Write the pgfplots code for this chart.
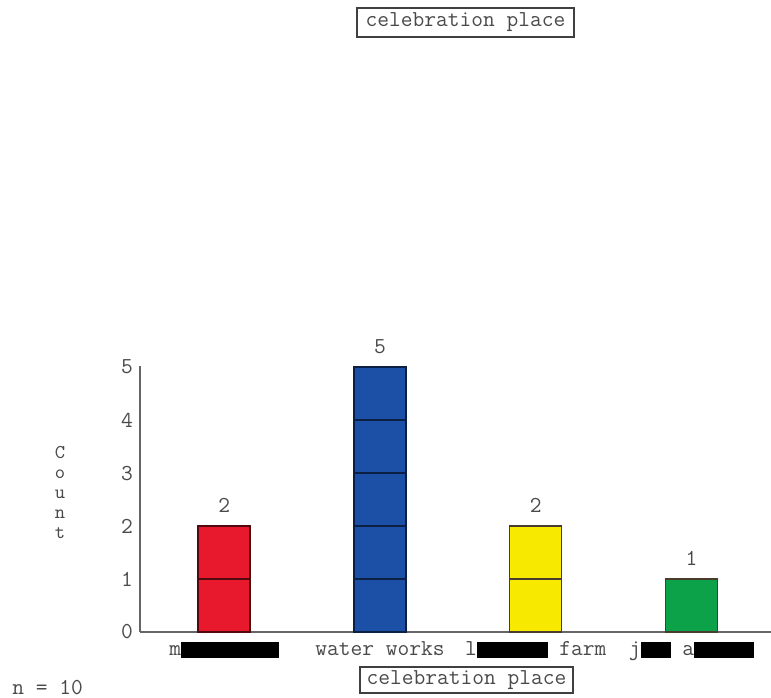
\documentclass[border=0pt]{standalone}
\usepackage{pgfplots}
\pgfplotsset{compat=1.18}
\usepackage{fontspec}
\definecolor{cred}{HTML}{E8192C}
\definecolor{cblue}{HTML}{1C4FA6}
\definecolor{cyellow}{HTML}{F7EA00}
\definecolor{cgreen}{HTML}{0CA24A}
\definecolor{edge}{HTML}{4A3C2C}
\definecolor{txt}{HTML}{4A4A4A}
\newcommand{\redact}[1]{{\color{black}\rule[-1.5pt]{#1}{8pt}}}
\newcommand{\chartfont}{\ttfamily\fontsize{11.4}{13}\selectfont}
\begin{document}
\begin{tikzpicture}[x=1pt,y=1pt]
\useasboundingbox (0,0) rectangle (385.5,348.5);
\begin{axis}[
  at={(70pt,32.5pt)}, anchor=south west,
  scale only axis, width=315.5pt, height=133pt,
  xmin=-0.54, xmax=3.51, ymin=0, ymax=5.02,
  axis x line=bottom, axis y line=left,
  axis line style={-, draw=black!60, line width=0.8pt},
  xtick={0,1,2,3},
  xticklabels={{m\redact{49pt}},{water works},{l\redact{35.5pt} farm},{j\redact{15pt} a\redact{30pt}}},
  ytick={0,1,2,3,4,5},
  major tick length=0pt,
  tick label style={text=txt, font=\chartfont},
  xticklabel style={anchor=base, yshift=-11.5pt},
  /pgf/number format/assume math mode=true,
  clip=false,
  every node near coord/.append style={text=txt, font=\chartfont, anchor=base, yshift=7pt, inner sep=0pt},
]
\addplot[ybar, bar width=26pt, fill=cred, draw=cred!35!black, line width=0.75pt, nodes near coords] coordinates {(0,2)};
\addplot[ybar, bar width=26pt, fill=cblue, draw=cblue!40!black, line width=0.75pt, nodes near coords] coordinates {(1,5)};
\addplot[ybar, bar width=26pt, fill=cyellow, draw=edge, line width=0.75pt, nodes near coords] coordinates {(2,2)};
\addplot[ybar, bar width=26pt, fill=cgreen, draw=edge, line width=0.75pt, nodes near coords] coordinates {(3,1)};
% unit divisions inside the bars
\addplot[ybar, bar width=26pt, fill=none, draw=cred!35!black, line width=0.75pt] coordinates {(0,1)};
\addplot[ybar, bar width=26pt, fill=none, draw=cblue!40!black, line width=0.75pt] coordinates {(1,1) (1,2) (1,3) (1,4)};
\addplot[ybar, bar width=26pt, fill=none, draw=edge, line width=0.75pt] coordinates {(2,1)};
\end{axis}
\node[draw=black!75, line width=0.8pt, text=txt, minimum width=108.5pt, minimum height=14.5pt, inner sep=0pt, font=\chartfont] at (232.75,337.25) {celebration place};
\node[draw=black!75, line width=0.8pt, text=txt, minimum width=106.5pt, minimum height=13pt, inner sep=0pt, font=\chartfont] at (233.25,8.5) {celebration place};
\node[align=center, text=txt, inner sep=0pt, font=\ttfamily\fontsize{9.8}{10}\selectfont] at (30,102.5) {C\\o\\u\\n\\t};
\node[anchor=base west, text=txt, inner sep=0pt, font=\chartfont] at (6,1.5) {n = 10};
\end{tikzpicture}
\end{document}
